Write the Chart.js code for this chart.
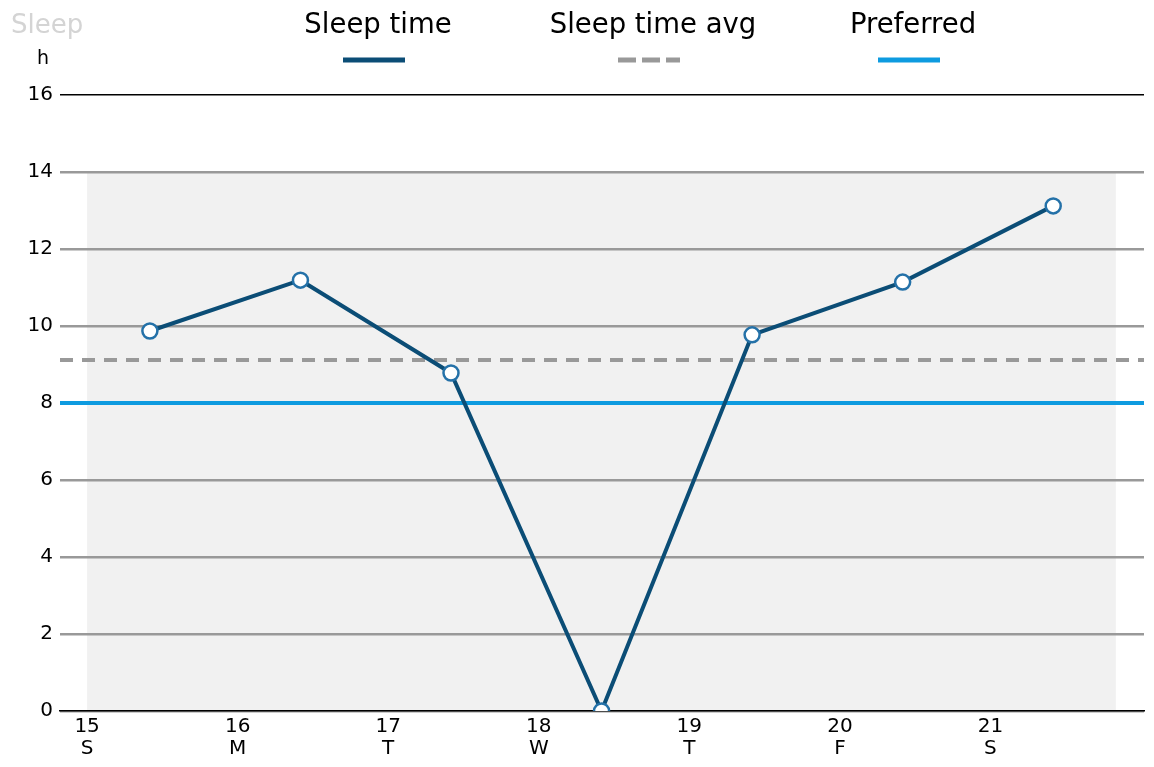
<!DOCTYPE html>
<html>
<head>
<meta charset="utf-8">
<script src="https://cdn.jsdelivr.net/npm/chart.js@4"></script>
<style>
  body { margin: 0; background: #fff; }
  #wrap { width: 1154px; height: 767px; position: relative; }
</style>
</head>
<body>
<div id="wrap"><canvas id="sleepChart"></canvas></div>
<script>
// days shown on the x axis, with weekday letters
const dayTicks = [15, 16, 17, 18, 19, 20, 21];
const weekdays = ['S', 'M', 'T', 'W', 'T', 'F', 'S'];

// sleep records (day + time of day) and hours slept
const sleepDays = [15.417, 16.417, 17.417, 18.417, 19.417, 20.417, 21.417];
const sleepHours = [9.87, 11.19, 8.78, 0, 9.77, 11.14, 13.12];

const avgHours = 9.12;
const preferredHours = 8;

// shaded week band
const bandDays = [15, 21.833];
const bandHours = [0, 14];

const xRange = [14.82, 22.02];
const yTicks = [0, 2, 4, 6, 8, 10, 12, 14, 16];

const FONT = 'DejaVu Sans';

const legendItems = [
  { label: 'Sleep time', color: '#0b4d76', dash: [], cx: 378 },
  { label: 'Sleep time avg', color: '#999999', dash: [18, 6], cx: 653 },
  { label: 'Preferred', color: '#0e9be0', dash: [], cx: 913 }
];

const decorPlugin = {
  id: 'decor',
  beforeDraw(chart) {
    const { ctx, scales: { x, y } } = chart;
    ctx.save();
    ctx.fillStyle = '#f1f1f1';
    const l = x.getPixelForValue(bandDays[0]);
    const r = x.getPixelForValue(bandDays[1]);
    const t = y.getPixelForValue(bandHours[1]);
    const b = y.getPixelForValue(bandHours[0]);
    ctx.fillRect(l, t, r - l, b - t);
    ctx.restore();
  },
  afterDraw(chart) {
    const ctx = chart.ctx;
    ctx.save();
    ctx.textBaseline = 'alphabetic';
    ctx.fillStyle = '#d4d4d4';
    ctx.font = '26px "' + FONT + '"';
    ctx.textAlign = 'left';
    ctx.fillText('Sleep', 11, 33);
    ctx.fillStyle = '#000';
    ctx.font = '19px "' + FONT + '"';
    ctx.textAlign = 'center';
    ctx.fillText('h', 43, 64);

    ctx.font = '27.5px "' + FONT + '"';
    legendItems.forEach(it => {
      ctx.fillStyle = '#000';
      ctx.fillText(it.label, it.cx, 33);
      ctx.strokeStyle = it.color;
      ctx.lineWidth = 5;
      ctx.setLineDash(it.dash);
      ctx.beginPath();
      ctx.moveTo(it.cx - 35, 60);
      ctx.lineTo(it.cx + 27, 60);
      ctx.stroke();
    });
    ctx.setLineDash([]);
    ctx.restore();
  }
};

new Chart(document.getElementById('sleepChart'), {
  type: 'line',
  data: {
    datasets: [
      {
        label: 'Sleep time',
        data: sleepDays.map((d, i) => ({ x: d, y: sleepHours[i] })),
        borderColor: '#0b4d76',
        borderWidth: 4,
        pointRadius: 7.5,
        pointBorderWidth: 2.5,
        pointBorderColor: '#2471a8',
        pointBackgroundColor: '#fff',
        tension: 0,
        clip: 0,
        order: 0
      },
      {
        label: 'Sleep time avg',
        data: [{ x: xRange[0], y: avgHours }, { x: xRange[1], y: avgHours }],
        borderColor: '#999999',
        borderWidth: 4,
        borderDash: [13, 9],
        pointRadius: 0,
        order: 2
      },
      {
        label: 'Preferred',
        data: [{ x: xRange[0], y: preferredHours }, { x: xRange[1], y: preferredHours }],
        borderColor: '#0e9be0',
        borderWidth: 4,
        pointRadius: 0,
        order: 1
      }
    ]
  },
  options: {
    responsive: true,
    maintainAspectRatio: false,
    animation: false,
    layout: { padding: { top: 95, right: 10, left: 0, bottom: 0 } },
    plugins: {
      legend: { display: false },
      tooltip: { enabled: false }
    },
    scales: {
      x: {
        type: 'linear',
        min: xRange[0],
        max: xRange[1],
        afterBuildTicks: s => { s.ticks = dayTicks.map(v => ({ value: v })); },
        afterFit: s => { s.height = 56; },
        grid: { display: false, drawTicks: false },
        border: { display: true, color: '#000', width: 1.5 },
        ticks: {
          color: '#000',
          font: { family: FONT, size: 20, lineHeight: 1.1 },
          padding: 5,
          maxRotation: 0,
          autoSkip: false,
          callback: v => [String(v), weekdays[dayTicks.indexOf(v)]]
        }
      },
      y: {
        min: 0,
        max: 16,
        afterBuildTicks: s => { s.ticks = yTicks.map(v => ({ value: v })); },
        afterFit: s => { s.width = 60; },
        border: { display: false },
        grid: {
          drawTicks: false,
          color: c => c.tick.value === 16 ? '#000' : '#999999',
          lineWidth: c => c.tick.value === 16 ? 1.5 : 2.5
        },
        ticks: {
          color: '#000',
          font: { family: FONT, size: 20 },
          padding: 7
        }
      }
    }
  },
  plugins: [decorPlugin]
});
</script>
</body>
</html>
